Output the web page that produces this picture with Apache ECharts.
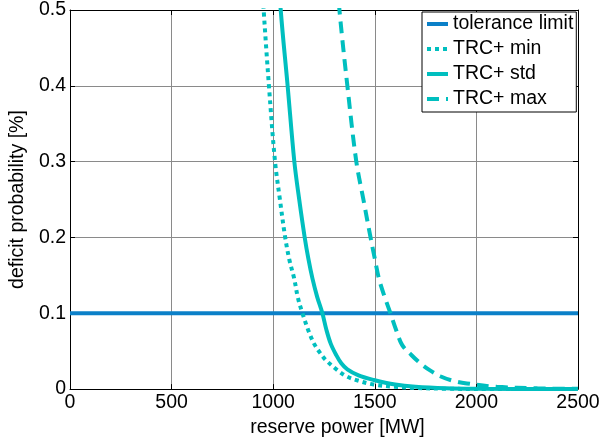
<!DOCTYPE html>
<html><head><meta charset="utf-8">
<script src="https://cdn.jsdelivr.net/npm/echarts@6/dist/echarts.min.js"></script>
<style>html,body{margin:0;padding:0;background:#fff}#c{width:610px;height:443px}</style>
</head><body><div id="c"></div>
<script>
const seriesNames = ['tolerance limit', 'TRC+ min', 'TRC+ std', 'TRC+ max'];
const xTicks = [0, 500, 1000, 1500, 2000, 2500];
const yTicks = [0, 0.1, 0.2, 0.3, 0.4, 0.5];
const toleranceLimit = [[0, 0.1], [2500, 0.1]];
const trcMin = [[940,0.56],[953,0.5],[979,0.4],[1009,0.3],[1033,0.25],[1059,0.2],[1080,0.17],[1103,0.146],[1122,0.12],[1144,0.1],[1172,0.078],[1201,0.06],[1230,0.048],[1260,0.038],[1316,0.025],[1360,0.017],[1420,0.011],[1494,0.006],[1600,0.003],[1700,0.0015],[1850,0.0005],[2000,0.0002],[2500,0]];
const trcStd = [[1025,0.56],[1037,0.5],[1071,0.4],[1104,0.3],[1128,0.25],[1155,0.2],[1173,0.172],[1193,0.146],[1216,0.122],[1242,0.1],[1262,0.078],[1283,0.06],[1310,0.045],[1335,0.034],[1365,0.026],[1420,0.018],[1495,0.012],[1600,0.006],[1700,0.003],[1850,0.001],[2000,0.0004],[2500,0]];
const trcMax = [[1310,0.56],[1326,0.5],[1365,0.4],[1409,0.3],[1444,0.25],[1479,0.2],[1500,0.172],[1520,0.146],[1548,0.122],[1577,0.1],[1605,0.078],[1635,0.058],[1680,0.045],[1724,0.034],[1770,0.025],[1822,0.017],[1885,0.011],[1953,0.0075],[2100,0.003],[2300,0.001],[2500,0.0003]];

const FONT = 'Liberation Sans, Arial, sans-serif';
const FS = 19.5;
const BLUE = '#0b80c8';
const TEAL = '#00bfbf';

const chart = echarts.init(document.getElementById('c'), null, {renderer: 'canvas'});
const common = {type: 'line', symbol: 'none', smooth: 0.35, clip: true, animation: false};
chart.setOption({
  animation: false,
  backgroundColor: '#fff',
  textStyle: {fontFamily: FONT},
  grid: {left: 68, right: 32, top: 6, bottom: 50, containLabel: false},
  legend: {
    orient: 'vertical', left: 422, top: 12,
    backgroundColor: '#fff', borderColor: '#000', borderWidth: 1,
    padding: [2, 3, 3, 3], itemWidth: 21, itemHeight: 14, itemGap: 5,
    itemStyle: {opacity: 0, color: 'rgba(0,0,0,0)', borderWidth: 0},
    lineStyle: {width: 4},
    textStyle: {fontFamily: FONT, fontSize: FS, color: '#000'},
    data: seriesNames
  },
  xAxis: [{
    type: 'value', min: 0, max: 2500, interval: 500,
    name: 'reserve power [MW]', nameLocation: 'middle', nameGap: 23,
    nameTextStyle: {fontFamily: FONT, fontSize: FS, color: '#000', padding: [0, 0, 0, 27]},
    axisLine: {show: true, onZero: false, lineStyle: {color: '#000', width: 1}},
    axisTick: {show: true, inside: true, length: 5, lineStyle: {color: '#000'}},
    axisLabel: {fontFamily: FONT, fontSize: FS, color: '#000', margin: 4,
      formatter: v => xTicks.includes(v) ? String(v) : ''},
    splitLine: {show: true, lineStyle: {color: '#8a8a8a', width: 1}}
  }, {
    type: 'value', min: 0, max: 2500, interval: 500, position: 'top',
    axisLine: {show: true, onZero: false, lineStyle: {color: '#000', width: 1}},
    axisTick: {show: true, inside: true, length: 5, lineStyle: {color: '#000'}},
    axisLabel: {show: false}, splitLine: {show: false}
  }],
  yAxis: [{
    type: 'value', min: 0, max: 0.5, interval: 0.1,
    name: 'deficit probability [%]', nameLocation: 'middle', nameGap: 33,
    nameTextStyle: {fontFamily: FONT, fontSize: FS, color: '#000'},
    axisLine: {show: true, onZero: false, lineStyle: {color: '#000', width: 1}},
    axisTick: {show: true, inside: true, length: 5, lineStyle: {color: '#000'}},
    axisLabel: {fontFamily: FONT, fontSize: FS, color: '#000', margin: 4,
      formatter: v => { const t = yTicks.find(k => Math.abs(k - v) < 1e-9); return t === undefined ? '' : String(t); }},
    splitLine: {show: true, lineStyle: {color: '#8a8a8a', width: 1}}
  }, {
    type: 'value', min: 0, max: 0.5, interval: 0.1, position: 'right',
    axisLine: {show: true, onZero: false, lineStyle: {color: '#000', width: 1}},
    axisTick: {show: true, inside: true, length: 5, lineStyle: {color: '#000'}},
    axisLabel: {show: false}, splitLine: {show: false}
  }],
  series: [
    Object.assign({}, common, {name: seriesNames[0], data: toleranceLimit, smooth: false,
      lineStyle: {color: BLUE, width: 4}, itemStyle: {color: BLUE}}),
    Object.assign({}, common, {name: seriesNames[1], data: trcMin,
      lineStyle: {color: TEAL, width: 4, type: [4, 4]}, itemStyle: {color: TEAL}}),
    Object.assign({}, common, {name: seriesNames[2], data: trcStd,
      lineStyle: {color: TEAL, width: 4}, itemStyle: {color: TEAL}}),
    Object.assign({}, common, {name: seriesNames[3], data: trcMax,
      lineStyle: {color: TEAL, width: 4, type: [12, 7]}, itemStyle: {color: TEAL}})
  ]
});
</script>
</body></html>
